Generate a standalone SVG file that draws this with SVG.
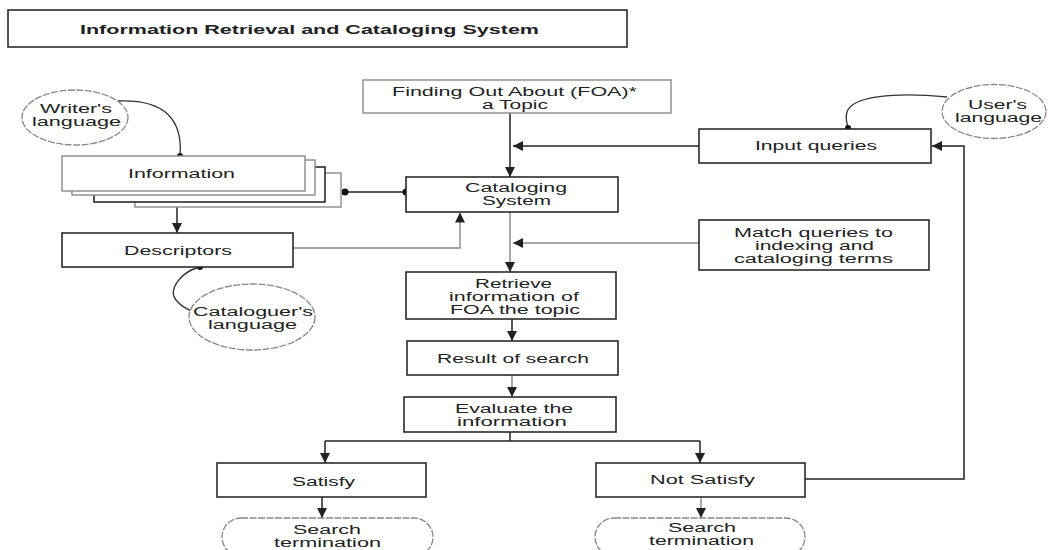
<svg xmlns="http://www.w3.org/2000/svg" width="1050" height="550" viewBox="0 0 1050 550">
<defs>
<style>
.box{fill:#fff;stroke:#2a2a2a;stroke-width:1.6}
.lbox{fill:#fff;stroke:#8a8a8a;stroke-width:1.4}
.ell{fill:#fff;stroke:#888;stroke-width:1.3;stroke-dasharray:7 1.5}
.t{font-family:"Liberation Sans",Arial,sans-serif;font-size:12px;fill:#222;text-anchor:middle}
.tb{font-family:"Liberation Sans",Arial,sans-serif;font-size:13px;font-weight:bold;fill:#222;text-anchor:middle}
.c{fill:none;stroke:#222;stroke-width:1.5}
.cg{fill:none;stroke:#888;stroke-width:1.4}
.cc{fill:none;stroke:#333;stroke-width:1.3}
.dot{fill:#111}
</style>
<marker id="ah" viewBox="0 0 10 10" refX="10" refY="5" markerWidth="10" markerHeight="10" markerUnits="userSpaceOnUse" orient="auto">
<path d="M0,0 L10,5 L0,10 z" fill="#222"/>
</marker>
</defs>

<g id="title">
<rect class="box" x="8" y="10" width="619" height="37"/>
<text class="tb" x="309.5" y="34" textLength="459" lengthAdjust="spacingAndGlyphs">Information Retrieval and Cataloging System</text>
</g>

<g id="connectors">
<line class="c" x1="510" y1="113" x2="510" y2="177" stroke-width="2" marker-end="url(#ah)"/>
<line class="c" x1="699" y1="146" x2="513" y2="146" marker-end="url(#ah)"/>
<line class="c" x1="345" y1="192" x2="406" y2="192"/>
<circle class="dot" cx="345" cy="192" r="3.5"/>
<circle class="dot" cx="406" cy="192" r="3.5"/>
<path class="cc" d="M118,101 C165,99 183,120 180,156"/>
<circle class="dot" cx="180" cy="156" r="3"/>
<line class="c" x1="177" y1="191" x2="177" y2="233" marker-end="url(#ah)"/>
<polyline class="cg" points="293,248 460,248 460,212.5" marker-end="url(#ah)"/>
<path class="cc" d="M200,267 C180,272 168,290 176,300 C181,306 186,309 192,311"/>
<circle class="dot" cx="200" cy="267" r="3"/>
<line class="cg" x1="510" y1="212" x2="510" y2="272" stroke-width="2.4" marker-end="url(#ah)"/>
<line class="cg" x1="699" y1="243" x2="513" y2="243" marker-end="url(#ah)"/>
<line class="c" x1="512" y1="319" x2="512" y2="341" marker-end="url(#ah)"/>
<line class="cg" x1="512" y1="375" x2="512" y2="397" stroke-width="2" marker-end="url(#ah)"/>
<polyline class="c" points="510,432 510,441"/>
<line class="c" x1="325" y1="441" x2="700" y2="441"/>
<line class="c" x1="325" y1="441" x2="325" y2="463" marker-end="url(#ah)"/>
<line class="c" x1="700" y1="441" x2="700" y2="463" marker-end="url(#ah)"/>
<line class="c" x1="322" y1="497" x2="322" y2="518" marker-end="url(#ah)"/>
<line class="cg" x1="701" y1="497" x2="701" y2="518" stroke-width="2" marker-end="url(#ah)"/>
<polyline class="c" points="805,479 964,479 964,146 932,146" marker-end="url(#ah)"/>
<path class="cc" d="M947,97 C895,92 852,96 847,112 C845,118 847,124 848,128"/>
<circle class="dot" cx="848" cy="128" r="3"/>
</g>

<g id="foa">
<rect class="lbox" x="363" y="80" width="308" height="33"/>
<text class="t" x="514.5" y="96" textLength="245" lengthAdjust="spacingAndGlyphs">Finding Out About (FOA)*</text>
<text class="t" x="515" y="109" textLength="66" lengthAdjust="spacingAndGlyphs">a Topic</text>
</g>

<g id="writers-language">
<ellipse class="ell" cx="75" cy="117.5" rx="53" ry="27.5"/>
<text class="t" x="76" y="113" textLength="72" lengthAdjust="spacingAndGlyphs">Writer's</text>
<text class="t" x="76.5" y="126" textLength="89" lengthAdjust="spacingAndGlyphs">language</text>
</g>

<g id="information">
<rect class="lbox" x="135" y="173" width="206" height="34"/>
<rect class="box" x="94" y="167" width="231" height="35"/>
<rect class="lbox" x="72" y="160" width="243" height="35"/>
<rect class="lbox" x="62" y="156" width="243" height="35"/>
<text class="t" x="181.5" y="178" textLength="107" lengthAdjust="spacingAndGlyphs">Information</text>
</g>

<g id="cataloging-system">
<rect class="box" x="406" y="177" width="212" height="35"/>
<text class="t" x="516" y="192" textLength="102" lengthAdjust="spacingAndGlyphs">Cataloging</text>
<text class="t" x="516.5" y="205" textLength="69" lengthAdjust="spacingAndGlyphs">System</text>
</g>

<g id="input-queries">
<rect class="box" x="699" y="129" width="232" height="34"/>
<text class="t" x="816" y="150" textLength="122" lengthAdjust="spacingAndGlyphs">Input queries</text>
</g>

<g id="users-language">
<ellipse class="ell" cx="994" cy="111.5" rx="52" ry="27"/>
<text class="t" x="997.5" y="109" textLength="59" lengthAdjust="spacingAndGlyphs">User's</text>
<text class="t" x="998.5" y="122" textLength="87" lengthAdjust="spacingAndGlyphs">language</text>
</g>

<g id="descriptors">
<rect class="box" x="62" y="233" width="231" height="34"/>
<text class="t" x="178" y="255" textLength="108" lengthAdjust="spacingAndGlyphs">Descriptors</text>
</g>

<g id="cataloguers-language">
<ellipse class="ell" cx="252" cy="317" rx="63" ry="33"/>
<text class="t" x="253" y="316" textLength="120" lengthAdjust="spacingAndGlyphs">Cataloguer's</text>
<text class="t" x="252.5" y="329" textLength="89" lengthAdjust="spacingAndGlyphs">language</text>
</g>

<g id="match-queries">
<rect class="box" x="699" y="220" width="230" height="50"/>
<text class="t" x="813.5" y="237" textLength="159" lengthAdjust="spacingAndGlyphs">Match queries to</text>
<text class="t" x="814.5" y="250" textLength="119" lengthAdjust="spacingAndGlyphs">indexing and</text>
<text class="t" x="813.5" y="263" textLength="159" lengthAdjust="spacingAndGlyphs">cataloging terms</text>
</g>

<g id="retrieve">
<rect class="box" x="406" y="272" width="210" height="47"/>
<text class="t" x="513.5" y="288" textLength="77" lengthAdjust="spacingAndGlyphs">Retrieve</text>
<text class="t" x="514" y="301" textLength="130" lengthAdjust="spacingAndGlyphs">information of</text>
<text class="t" x="515" y="314" textLength="130" lengthAdjust="spacingAndGlyphs">FOA the topic</text>
</g>

<g id="result">
<rect class="box" x="407" y="341" width="211" height="34"/>
<text class="t" x="513" y="363" textLength="152" lengthAdjust="spacingAndGlyphs">Result of search</text>
</g>

<g id="evaluate">
<rect class="box" x="404" y="397" width="212" height="35"/>
<text class="t" x="514" y="413" textLength="118" lengthAdjust="spacingAndGlyphs">Evaluate the</text>
<text class="t" x="512" y="426" textLength="110" lengthAdjust="spacingAndGlyphs">information</text>
</g>

<g id="satisfy">
<rect class="box" x="217" y="463" width="209" height="34"/>
<text class="t" x="323.5" y="486" textLength="63" lengthAdjust="spacingAndGlyphs">Satisfy</text>
</g>

<g id="not-satisfy">
<rect class="box" x="596" y="463" width="209" height="34"/>
<text class="t" x="702.5" y="484" textLength="105" lengthAdjust="spacingAndGlyphs">Not Satisfy</text>
</g>

<g id="search-termination-1">
<rect class="ell" x="222" y="518" width="211" height="38" rx="19"/>
<text class="t" x="327" y="534" textLength="68" lengthAdjust="spacingAndGlyphs">Search</text>
<text class="t" x="327.5" y="547" textLength="107" lengthAdjust="spacingAndGlyphs">termination</text>
</g>

<g id="search-termination-2">
<rect class="ell" x="595" y="518" width="210" height="38" rx="19"/>
<text class="t" x="702" y="532" textLength="68" lengthAdjust="spacingAndGlyphs">Search</text>
<text class="t" x="701.5" y="545" textLength="105" lengthAdjust="spacingAndGlyphs">termination</text>
</g>
</svg>
